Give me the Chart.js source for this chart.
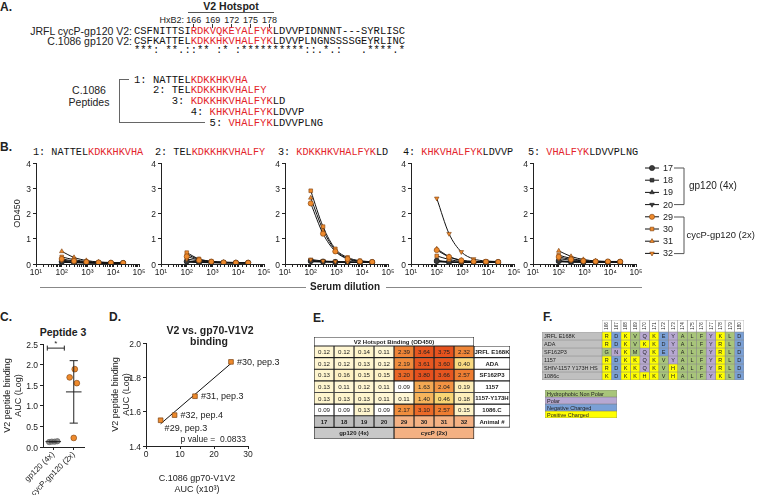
<!DOCTYPE html>
<html>
<head>
<meta charset="utf-8">
<script src="https://cdn.jsdelivr.net/npm/chart.js@4.4.1/dist/chart.umd.min.js"></script>
<style>
  body { margin: 0; background: #fff; }
  #fig { position: relative; width: 760px; height: 495px; overflow: hidden;
         font-family: 'Liberation Sans', Arial, sans-serif; color: #222; }
  .abs { position: absolute; white-space: pre; }
  .mono { font-family: 'Liberation Mono', 'DejaVu Sans Mono', monospace; color: #111; }
  .red { color: #e3242b; }
  .rule { position: absolute; background: #777; }
  canvas { position: absolute; }
</style>
</head>
<body>
<div id="fig"></div>
<script>
// ---------- A: alignment ----------
const hotspotStart = 9, hotspotEnd = 21;          // alignment columns shown in red
const hxb2Marks = [166, 169, 172, 175, 178];
const jrflSeq  = 'CSFNITTSIRDKVQKEYALFYKLDVVPIDNNNT---SYRLISC';
const c1086Seq = 'CSFKATTELKDKKHKVHALFYKLDVVPLNGNSSSSGEYRLINC';
const consSeq  = '***: **.::** :* :**********::.*.:   .****.*';
const peptideSeqs  = ['NATTELKDKKHKVHA', 'TELKDKKHKVHALFY', 'KDKKHKVHALFYKLD', 'KHKVHALFYKLDVVP', 'VHALFYKLDVVPLNG'];
const peptideStart = [3, 6, 9, 12, 15];

// ---------- B: peptide ELISA ----------
const dilutions = [100, 300, 900, 2700, 8100, 24300];
const animals = ['17', '18', '19', '20', '29', '30', '31', '32'];
const bYTicks = [0, 1, 2, 3, 4];
const odPep1 = [
  [0.09, 0.06, 0.05, 0.04, 0.04, 0.04], [0.11, 0.07, 0.05, 0.04, 0.04, 0.04],
  [0.08, 0.06, 0.05, 0.04, 0.04, 0.03], [0.07, 0.05, 0.04, 0.04, 0.03, 0.03],
  [0.20, 0.12, 0.08, 0.06, 0.05, 0.04], [0.28, 0.17, 0.10, 0.07, 0.05, 0.04],
  [0.50, 0.26, 0.14, 0.08, 0.06, 0.05], [0.15, 0.10, 0.07, 0.05, 0.04, 0.04]];
const odPep2 = [
  [0.10, 0.07, 0.06, 0.05, 0.05, 0.05], [0.12, 0.08, 0.06, 0.05, 0.05, 0.05],
  [0.09, 0.07, 0.06, 0.05, 0.05, 0.04], [0.08, 0.06, 0.05, 0.05, 0.04, 0.04],
  [0.30, 0.15, 0.09, 0.06, 0.05, 0.05], [0.45, 0.20, 0.11, 0.07, 0.06, 0.05],
  [0.38, 0.18, 0.10, 0.07, 0.06, 0.05], [0.20, 0.12, 0.08, 0.06, 0.05, 0.05]];
const odPep3 = [
  [0.12, 0.10, 0.08, 0.07, 0.07, 0.07], [0.15, 0.10, 0.09, 0.08, 0.07, 0.07],
  [0.10, 0.09, 0.08, 0.07, 0.06, 0.06], [0.09, 0.08, 0.07, 0.06, 0.06, 0.06],
  [2.40, 1.20, 0.50, 0.20, 0.10, 0.08], [2.90, 1.48, 0.60, 0.26, 0.13, 0.09],
  [2.62, 1.35, 0.55, 0.22, 0.11, 0.08], [0.18, 0.12, 0.10, 0.08, 0.07, 0.06]];
const odPep4 = [
  [0.12, 0.08, 0.07, 0.07, 0.07, 0.07], [0.14, 0.09, 0.07, 0.07, 0.07, 0.07],
  [0.10, 0.08, 0.07, 0.06, 0.06, 0.06], [0.09, 0.07, 0.06, 0.06, 0.06, 0.06],
  [0.55, 0.28, 0.14, 0.10, 0.09, 0.08], [0.32, 0.18, 0.10, 0.08, 0.08, 0.08],
  [0.60, 0.30, 0.15, 0.10, 0.09, 0.09], [2.60, 1.20, 0.48, 0.20, 0.12, 0.10]];
const odPep5 = [
  [0.12, 0.09, 0.08, 0.08, 0.08, 0.08], [0.13, 0.09, 0.08, 0.08, 0.08, 0.08],
  [0.10, 0.08, 0.08, 0.07, 0.07, 0.07], [0.09, 0.08, 0.07, 0.07, 0.07, 0.07],
  [0.28, 0.18, 0.12, 0.10, 0.10, 0.09], [0.35, 0.22, 0.14, 0.11, 0.10, 0.10],
  [0.52, 0.30, 0.18, 0.12, 0.10, 0.10], [0.22, 0.14, 0.10, 0.09, 0.09, 0.09]];
const odPeptides = [odPep1, odPep2, odPep3, odPep4, odPep5];

// ---------- C: peptide 3 AUC ----------
const cGroups = ['gp120 (4x)', 'cycP-gp120 (2x)'];
const cGp120 = [0.12, 0.13, 0.13, 0.14];
const cCycP = [1.55, 1.89, 1.69, 0.22];     // animals 29..32
const cYTicks = [0, 0.5, 1.0, 1.5, 2.0, 2.5];

// ---------- D: correlation ----------
const dGp70 = [4.3, 25.0, 14.4, 8.4];
const dV2 = [1.55, 1.89, 1.69, 1.58];
const dLabels = ['#29, pep.3', '#30, pep.3', '#31, pep.3', '#32, pep.4'];
const dPValue = '0.0833';
const dYTicks = [1.4, 1.6, 1.8, 2.0];

// ---------- E: hotspot binding heatmap ----------
const eRows = ['JRFL E168K', 'ADA', 'SF162P3', '1157', '1157-Y173H', '1086.C'];
const odJRFL = [0.12, 0.12, 0.14, 0.11, 2.39, 3.64, 3.75, 2.32];
const odADA = [0.12, 0.12, 0.13, 0.12, 2.19, 3.61, 3.60, 0.40];
const odSF162 = [0.13, 0.16, 0.15, 0.15, 3.20, 3.80, 3.66, 2.57];
const od1157 = [0.13, 0.11, 0.12, 0.11, 0.09, 1.63, 2.04, 0.19];
const od1157Y = [0.13, 0.13, 0.13, 0.11, 0.11, 1.40, 0.46, 0.18];
const od1086 = [0.09, 0.09, 0.13, 0.09, 2.17, 3.10, 2.57, 0.15];
const eGroups = ['gp120 (4x)', 'cycP (2x)'];

// ---------- F: residue table ----------
const fPositions = ['166', '167', '168', '169', '170', '171', '172', '173', '174', '175', '176', '177', '178', '179', '180'];
const fStrains = ['JRFL E168K', 'ADA', 'SF162P3', '1157', 'SHIV-1157 Y173H HS', '1086c'];
const fSeqs = ['RDKVQKEYALFYKLD', 'RDKVKKDYALFYRLD', 'GNKMQKEYALFYRLD', 'RDKKQKVYALFYRLD', 'RDKKQKVHALFYRLD', 'KDKKHKVHALFYKLD'];
const fClasses = ['Hydrophobic Non Polar', 'Polar', 'Negative Charged', 'Positive Charged'];

// ======================================================================
Chart.defaults.font.family = "'Liberation Sans', Arial, sans-serif";
Chart.defaults.font.size = 8.5;
Chart.defaults.color = '#222';

const fig = document.getElementById('fig');
const SANS = "'Liberation Sans', Arial, sans-serif";
const ORANGE = '#ee8a2c', ORANGE_EDGE = '#7a4010';

function txt(html, x, y, o = {}) {
  const d = document.createElement('div');
  d.className = 'abs' + (o.mono ? ' mono' : '');
  d.innerHTML = html;
  const size = o.size || 10;
  d.style.left = x + 'px';
  d.style.top = y + 'px';
  d.style.fontSize = size + 'px';
  d.style.lineHeight = size + 'px';
  if (o.bold) d.style.fontWeight = 'bold';
  const tx = o.align === 'center' ? '-50%' : o.align === 'right' ? '-100%' : '0';
  d.style.transform = `translate(${tx},-50%)`;
  fig.appendChild(d);
}
function rule(x, y, w, h, color) {
  const d = document.createElement('div');
  d.className = 'rule';
  d.style.cssText += `left:${x}px;top:${y}px;width:${w}px;height:${h}px;background:${color};`;
  fig.appendChild(d);
}
function mkCanvas(box) {
  const c = document.createElement('canvas');
  c.width = box.width; c.height = box.height;
  c.style.left = box.left + 'px'; c.style.top = box.top + 'px';
  fig.appendChild(c);
  return c;
}
function seqHTML(seq, start, colored = true) {
  return [...seq].map((ch, i) => {
    const k = start + i;
    return colored && k >= hotspotStart && k <= hotspotEnd ? `<span class="red">${ch}</span>` : ch;
  }).join('');
}
// shared axis look: black axis line, short outside ticks, no grid
const axisGrid = { drawOnChartArea: false, tickLength: 3, color: '#222' };
const axisBorder = { color: '#222' };

// y value labels are written as page text at the y scale's pixel for each tick value
const yLabelQueue = [];
function queueYLabels(chart, box, ticks, digits, min, max) { yLabelQueue.push({ chart, box, ticks, digits, min, max }); }

// ---------- panel letters ----------
txt('A.', 0, 7, { bold: true, size: 12 });
txt('B.', 0, 147, { bold: true, size: 12 });
txt('C.', 0, 317, { bold: true, size: 12 });
txt('D.', 109, 317, { bold: true, size: 12 });
txt('E.', 313, 318, { bold: true, size: 12 });
txt('F.', 543, 317, { bold: true, size: 12 });

// ---------- A ----------
const seqX = 134, cw = 6.3;
txt('V2 Hotspot', 231, 6, { bold: true, size: 10.5, align: 'center' });
rule(188, 12, 86, 1, '#555');
txt('HxB2:', 184, 20, { size: 9, align: 'right' });
hxb2Marks.forEach((m, i) => {
  const cx = seqX + (hotspotStart + i * 3 + 0.5) * cw;
  txt(String(m), cx, 19.5, { size: 9, align: 'center' });
  rule(cx - 0.5, 24, 1, 4, '#333');
});
txt('JRFL cycP-gp120 V2:', 132, 31, { size: 10.5, align: 'right' });
txt('C.1086 gp120 V2:', 132, 40.5, { size: 10.5, align: 'right' });
txt(seqHTML(jrflSeq, 0), seqX, 31, { mono: true, size: 10.5 });
txt(seqHTML(c1086Seq, 0), seqX, 40.5, { mono: true, size: 10.5 });
txt(seqHTML(consSeq, 0, false), seqX, 50, { mono: true, size: 10.5 });
txt('C.1086', 89, 90, { size: 10.5, align: 'center' });
txt('Peptides', 89, 102, { size: 10.5, align: 'center' });
rule(119, 79, 1, 44, '#666');
rule(119, 79, 10, 1, '#666');
rule(119, 122, 86, 1, '#666');
peptideSeqs.forEach((p, i) => {
  const x = seqX + (peptideStart[i] - 3) * cw;
  txt(`${i + 1}: ` + seqHTML(p, peptideStart[i]), x, 79.5 + i * 10.75, { mono: true, size: 10.5 });
});

// ---------- B ----------
const bPlotLeft = [36, 161, 285, 411, 533];
const bTitleX = [33, 155, 278, 403, 528];
const shapes = ['circle', 'rect', 'triangle', 'triangle'];
const sup = { 1: '\u00b9', 2: '\u00b2', 3: '\u00b3', 4: '\u2074', 5: '\u2075' };

const bLegend = {
  id: 'bLegend',
  afterDraw(chart) {
    const ctx = chart.ctx, ox = chart.canvas.offsetLeft, oy = chart.canvas.offsetTop;
    ctx.save();
    chart.data.datasets.forEach((ds, j) => {
      const y = 168 + j * 12.2 - oy, x = 645 - ox;
      ctx.strokeStyle = '#111'; ctx.lineWidth = 1;
      ctx.beginPath(); ctx.moveTo(x, y); ctx.lineTo(x + 14, y); ctx.stroke();
      ctx.fillStyle = ds.pointBackgroundColor; ctx.strokeStyle = ds.pointBorderColor; ctx.lineWidth = 0.6;
      Chart.helpers.drawPoint(ctx, { pointStyle: ds.pointStyle, rotation: ds.pointRotation, radius: 2.6, borderWidth: 0.6 }, x + 7, y);
      ctx.fillStyle = '#222'; ctx.font = '9px ' + SANS; ctx.textBaseline = 'middle';
      ctx.fillText(ds.label, x + 18, y + 0.5);
    });
    ctx.strokeStyle = '#555'; ctx.lineWidth = 1;
    [[168, 204.6], [217, 253.6]].forEach(([a, b]) => {
      ctx.beginPath();
      ctx.moveTo(674 - ox, a - oy); ctx.lineTo(684 - ox, a - oy); ctx.lineTo(684 - ox, b - oy); ctx.lineTo(674 - ox, b - oy);
      ctx.stroke();
    });
    ctx.fillStyle = '#222'; ctx.font = '10px ' + SANS;
    ctx.fillText('gp120 (4x)', 689 - ox, 186 - oy);
    ctx.font = '9.4px ' + SANS;
    ctx.fillText('cycP-gp120 (2x)', 686.5 - ox, 235.5 - oy);
    ctx.restore();
  }
};

odPeptides.forEach((vals, k) => {
  const yW = k === 0 ? 24 : 20;
  const padR = k === 4 ? 760 - (bPlotLeft[k] + 103) : 8;
  const box = { left: bPlotLeft[k] - yW, top: 158, width: yW + 103 + padR, height: 5 + 101 + 16 };
  txt(`${k + 1}: ` + seqHTML(peptideSeqs[k], peptideStart[k]), bTitleX[k], 153, { mono: true, size: 10.2 });
  const chart = new Chart(mkCanvas(box), {
    type: 'line',
    data: {
      datasets: animals.map((a, j) => ({
        label: a,
        data: dilutions.map((d, i) => ({ x: d, y: vals[j][i] })),
        borderColor: '#111', borderWidth: 1,
        pointStyle: shapes[j % 4], pointRotation: j % 4 === 3 ? 180 : 0,
        pointRadius: 2.6, pointBorderWidth: 0.6,
        pointBackgroundColor: j < 4 ? '#3a3a3a' : ORANGE,
        pointBorderColor: j < 4 ? '#1a1a1a' : ORANGE_EDGE,
        cubicInterpolationMode: 'monotone',
        order: j < 4 ? 2 : 1
      }))
    },
    options: {
      responsive: false, animation: false, events: [],
      layout: { padding: { left: 0, top: 5, right: padR, bottom: 0 }, autoPadding: false },
      plugins: { legend: { display: false }, tooltip: { enabled: false } },
      scales: {
        x: {
          type: 'logarithmic', min: 10, max: 100000,
          afterFit: s => { s.height = 16; },
          grid: axisGrid, border: axisBorder,
          ticks: {
            autoSkip: false, maxRotation: 0, padding: 1, font: { size: 8.5 },
            callback: v => {
              const e = Math.round(Math.log10(v));
              return Math.abs(Math.log10(v) - e) < 1e-9 ? '10' + sup[e] : '';
            }
          }
        },
        y: {
          type: 'linear', min: 0, max: 4,
          afterFit: s => { s.width = yW; },
          afterBuildTicks: s => { s.ticks = bYTicks.map(v => ({ value: v })); },
          grid: axisGrid, border: axisBorder,
          ticks: { display: false },
          title: { display: k === 0, text: 'OD450', font: { size: 9 }, padding: { top: 0, bottom: 0 } }
        }
      }
    },
    plugins: k === 4 ? [bLegend] : []
  });
  queueYLabels(chart, box, bYTicks, 0, 0, 4);
});
rule(40, 286.5, 266, 1.2, '#888');
txt('Serum dilution', 310, 287, { bold: true, size: 10 });
rule(386, 286.5, 256, 1.2, '#888');

// ---------- C ----------
const cJitter = [[-0.2, -0.07, 0.07, 0.2], [0.15, 0.05, -0.2, 0]];   // horizontal spread of dots
const sd = a => {
  const m = a.reduce((s, v) => s + v, 0) / a.length;
  return [m, Math.sqrt(a.reduce((s, v) => s + (v - m) ** 2, 0) / (a.length - 1))];
};
const cStats = {
  id: 'cStats',
  afterDatasetsDraw(chart) {
    const { ctx, scales: { x, y } } = chart;
    ctx.save(); ctx.strokeStyle = '#222'; ctx.lineWidth = 1;
    const line = (x0, y0, x1, y1) => {
      ctx.beginPath(); ctx.moveTo(x.getPixelForValue(x0), y.getPixelForValue(y0));
      ctx.lineTo(x.getPixelForValue(x1), y.getPixelForValue(y1)); ctx.stroke();
    };
    [cGp120, cCycP].forEach((vals, g) => {
      const [m, s] = sd(vals);
      line(g - 0.38, m, g + 0.38, m);
      line(g, m - s, g, m + s);
      line(g - 0.2, m - s, g + 0.2, m - s);
      line(g - 0.2, m + s, g + 0.2, m + s);
    });
    const yb = y.getPixelForValue(2.4), xa = x.getPixelForValue(-0.29), xb = x.getPixelForValue(0.54);
    ctx.beginPath(); ctx.moveTo(xa, yb - 2.5); ctx.lineTo(xa, yb + 2.5); ctx.moveTo(xa, yb); ctx.lineTo(xb, yb);
    ctx.moveTo(xb, yb - 2.5); ctx.lineTo(xb, yb + 2.5); ctx.stroke();
    ctx.fillStyle = '#222'; ctx.font = '8px ' + SANS; ctx.textAlign = 'center';
    ctx.fillText('*', (xa + xb) / 2, yb - 2);
    ctx.restore();
  }
};
txt('Peptide 3', 63, 332, { bold: true, size: 10.5, align: 'center' });
const cBox = { left: 0, top: 339, width: 92, height: 156 };
const cChart = new Chart(mkCanvas(cBox), {
  type: 'scatter',
  data: {
    datasets: [
      { data: cGp120.map((v, i) => ({ x: cJitter[0][i], y: v })), pointRadius: 2.7, backgroundColor: '#8a8a8a', borderColor: '#555', borderWidth: 0.6 },
      { data: cCycP.map((v, i) => ({ x: 1 + cJitter[1][i], y: v })), pointRadius: 2.9, backgroundColor: ORANGE, borderColor: ORANGE_EDGE, borderWidth: 0.6 }
    ]
  },
  options: {
    responsive: false, animation: false, events: [],
    layout: { padding: { left: 0, top: 5, right: 8, bottom: 0 }, autoPadding: false },
    plugins: { legend: { display: false }, tooltip: { enabled: false } },
    scales: {
      x: {
        type: 'linear', min: -0.5, max: 1.5,
        afterFit: s => { s.height = 48; },
        afterBuildTicks: s => { s.ticks = [{ value: 0 }, { value: 1 }]; },
        grid: axisGrid, border: axisBorder,
        ticks: { autoSkip: false, minRotation: 45, maxRotation: 45, padding: 0, font: { size: 8 }, callback: v => cGroups[v] }
      },
      y: {
        type: 'linear', min: 0, max: 2.5,
        afterFit: s => { s.width = 43; },
        afterBuildTicks: s => { s.ticks = cYTicks.map(v => ({ value: v })); },
        grid: axisGrid, border: axisBorder,
        ticks: { display: false },
        title: { display: true, text: ['V2 peptide binding', 'AUC (Log)'], font: { size: 9 }, padding: { top: 2, bottom: 0 } }
      }
    }
  },
  plugins: [cStats]
});
queueYLabels(cChart, cBox, cYTicks, 1, 0, 2.5);

// ---------- D ----------
const n = dGp70.length;
const mx = dGp70.reduce((s, v) => s + v, 0) / n, my = dV2.reduce((s, v) => s + v, 0) / n;
const slope = dGp70.reduce((s, v, i) => s + (v - mx) * (dV2[i] - my), 0) / dGp70.reduce((s, v) => s + (v - mx) ** 2, 0);
const xLo = Math.min(...dGp70), xHi = Math.max(...dGp70);
const dNotes = {
  id: 'dNotes',
  afterDatasetsDraw(chart) {
    const { ctx, chartArea } = chart;
    const pts = chart.getDatasetMeta(1).data;
    ctx.save(); ctx.fillStyle = '#222'; ctx.font = '9px ' + SANS; ctx.textBaseline = 'middle';
    pts.forEach((p, i) => {
      const below = dGp70[i] === xLo;
      ctx.fillText(dLabels[i], p.x + (below ? 4 : 6), p.y + (below ? 8.5 : 0.5));
    });
    ctx.font = '8.5px ' + SANS; ctx.textAlign = 'right';
    ctx.fillText('p value =  ' + dPValue, chartArea.right - 2, chartArea.bottom - 6);
    ctx.restore();
  }
};
txt('V2 vs. gp70-V1V2', 210, 330, { bold: true, size: 10.5, align: 'center' });
txt('binding', 209, 341, { bold: true, size: 10.5, align: 'center' });
const dBox = { left: 110, top: 338, width: 195, height: 157 };
const dChart = new Chart(mkCanvas(dBox), {
  type: 'scatter',
  data: {
    datasets: [
      { type: 'line', data: [{ x: xLo, y: my + slope * (xLo - mx) }, { x: xHi, y: my + slope * (xHi - mx) }], borderColor: '#111', borderWidth: 1, pointRadius: 0, order: 2 },
      { data: dGp70.map((v, i) => ({ x: v, y: dV2[i] })), pointStyle: 'rect', pointRadius: 3.3, backgroundColor: ORANGE, borderColor: ORANGE_EDGE, borderWidth: 0.7, order: 1 }
    ]
  },
  options: {
    responsive: false, animation: false, events: [],
    layout: { padding: { left: 0, top: 5, right: 57, bottom: 0 }, autoPadding: false },
    plugins: { legend: { display: false }, tooltip: { enabled: false } },
    scales: {
      x: {
        type: 'linear', min: 0, max: 30,
        afterFit: s => { s.height = 49; },
        grid: axisGrid, border: axisBorder,
        ticks: { stepSize: 10, padding: 1, maxRotation: 0, font: { size: 8.5 } },
        title: { display: true, text: ['C.1086 gp70-V1V2', 'AUC (x10\u00b3)'], font: { size: 9 }, padding: { top: 1, bottom: 0 } }
      },
      y: {
        type: 'linear', min: 1.4, max: 2.0,
        afterFit: s => { s.width = 36; },
        afterBuildTicks: s => { s.ticks = dYTicks.map(v => ({ value: v })); },
        grid: axisGrid, border: axisBorder,
        ticks: { display: false },
        title: { display: true, text: ['V2 peptide binding', 'AUC (Log)'], font: { size: 9 }, padding: { top: 0, bottom: 0 } }
      }
    }
  },
  plugins: [dNotes]
});
queueYLabels(dChart, dBox, dYTicks, 1, 1.4, 2.0);

// ---------- grid helper (E, F) ----------
const cellText = {
  id: 'cellText',
  afterDatasetsDraw(chart) {
    const ctx = chart.ctx;
    chart.data.datasets.forEach((ds, i) => {
      const c = ds.cell;
      if (!c.text) return;
      const el = chart.getDatasetMeta(i).data[chart.data.labels.indexOf(c.row)];
      const p = el.getProps(['x', 'y', 'base'], true);
      const l = Math.min(p.x, p.base), r = Math.max(p.x, p.base);
      ctx.save();
      ctx.font = c.font; ctx.fillStyle = '#222'; ctx.textBaseline = 'middle';
      if (c.rotate) {
        ctx.translate((l + r) / 2, p.y); ctx.rotate(-Math.PI / 2);
        ctx.textAlign = 'center'; ctx.fillText(c.text, 0, 0.5);
      } else if (c.align === 'left') {
        ctx.textAlign = 'left'; ctx.fillText(c.text, l + 2, p.y + 0.5);
      } else {
        ctx.textAlign = 'center'; ctx.fillText(c.text, (l + r) / 2, p.y + 0.5);
      }
      ctx.restore();
    });
  }
};
function gridChart(box, rowKeys, cells, edge, edgeW) {
  return new Chart(mkCanvas(box), {
    type: 'bar',
    data: {
      labels: rowKeys,
      datasets: cells.map(c => ({
        data: rowKeys.map(k => (k === c.row ? [c.x0, c.x1] : null)),
        backgroundColor: c.fill, borderColor: edge, borderWidth: edgeW, borderSkipped: false,
        barPercentage: 1, categoryPercentage: 1, grouped: false, cell: c
      }))
    },
    options: {
      indexAxis: 'y', responsive: false, animation: false, events: [],
      layout: { padding: 1, autoPadding: false },
      plugins: { legend: { display: false }, tooltip: { enabled: false } },
      scales: { x: { type: 'linear', min: 0, max: box.width - 2, display: false }, y: { display: false } }
    },
    plugins: [cellText]
  });
}

// ---------- E ----------
const heatStops = [[0.1, [255, 248, 217]], [0.2, [253, 237, 180]], [0.45, [248, 213, 116]], [1.4, [246, 180, 92]],
                   [2.0, [242, 149, 68]], [2.5, [238, 127, 51]], [3.2, [235, 103, 38]], [3.8, [229, 80, 29]]];
function heat(v) {
  if (v < 0.1) return '#ffffff';
  let k = 0;
  while (k < heatStops.length - 2 && v > heatStops[k + 1][0]) k++;
  const [a, ca] = heatStops[k], [b, cb] = heatStops[k + 1];
  const t = Math.max(0, Math.min(1, (v - a) / (b - a)));
  return 'rgb(' + ca.map((c, i) => Math.round(c + (cb[i] - c) * t)).join(',') + ')';
}
const eTable = [odJRFL, odADA, odSF162, od1157, od1157Y, od1086];
const eColW = 20, eLabW = 36;
const eFont = '6.2px ' + SANS, eBold = 'bold 6px ' + SANS;
const eCells = [];
eRows.forEach((r, i) => {
  eTable[i].forEach((v, j) => eCells.push({ row: r, x0: j * eColW, x1: (j + 1) * eColW, fill: heat(v), text: v.toFixed(2), font: eFont }));
  eCells.push({ row: r, x0: 8 * eColW, x1: 8 * eColW + eLabW, fill: '#fff', text: r, font: eBold });
});
animals.forEach((a, j) => eCells.push({ row: 'Animal #', x0: j * eColW, x1: (j + 1) * eColW, fill: j < 4 ? '#bdbdbd' : '#f4b183', text: a, font: eBold }));
eCells.push({ row: 'Animal #', x0: 8 * eColW, x1: 8 * eColW + eLabW, fill: '#fff', text: 'Animal #', font: eBold });
eGroups.forEach((g, j) => eCells.push({ row: 'group', x0: j * 4 * eColW, x1: (j + 1) * 4 * eColW, fill: j ? '#f4b183' : '#c8c8c8', text: g, font: eBold }));
gridChart({ left: 313, top: 336, width: 162, height: 11 }, ['head'],
  [{ row: 'head', x0: 0, x1: 8 * eColW, fill: '#fff', text: 'V2 Hotspot Binding (OD450)', font: eBold }], '#222', 0.9);
gridChart({ left: 313, top: 345, width: 198, height: 95 }, eRows.concat(['Animal #', 'group']), eCells, '#222', 0.9);

// ---------- F ----------
const fColors = ['#a8c57a', '#b7a8d2', '#7aa0d6', '#ffff00'];
const fClassOf = ch => ('RKH'.includes(ch) ? 3 : 'DE'.includes(ch) ? 2 : 'QNYSTC'.includes(ch) ? 1 : 0);
const fLabW = 60, fColW = 142 / 15;
const fFont = '5.5px ' + SANS;
const fCells = [];
fStrains.forEach((s, i) => {
  fCells.push({ row: s, x0: 0, x1: fLabW, fill: '#c0c0c0', text: s, font: fFont, align: 'left' });
  [...fSeqs[i]].forEach((ch, j) => fCells.push({ row: s, x0: fLabW + j * fColW, x1: fLabW + (j + 1) * fColW, fill: fColors[fClassOf(ch)], text: ch, font: fFont }));
});
gridChart({ left: 601, top: 319, width: 144, height: 14 }, ['pos'],
  fPositions.map((p, j) => ({ row: 'pos', x0: j * fColW, x1: (j + 1) * fColW, fill: '#fff', text: p, font: '4.5px ' + SANS, rotate: true })), '#888', 0.6);
gridChart({ left: 541, top: 331, width: 204, height: 50 }, fStrains, fCells, '#888', 0.6);
gridChart({ left: 544, top: 389, width: 74, height: 30 }, fClasses,
  fClasses.map((c, i) => ({ row: c, x0: 0, x1: 72, fill: fColors[i], text: c, font: fFont, align: 'left' })), '#777', 0.6);

// ---------- y value labels, last so they sit on top ----------
yLabelQueue.forEach(({ chart, box, ticks, digits, min, max }) => {
  const ca = chart.chartArea;
  const s = chart.scales.y;
  ticks.forEach(v => {
    let py = s.getPixelForValue(v);
    if (!isFinite(py)) py = ca.bottom - (v - min) / (max - min) * (ca.bottom - ca.top);
    txt(v.toFixed(digits), box.left + ca.left - 5, box.top + py + 0.5, { size: 8.5, align: 'right' });
  });
});
</script>
</body>
</html>
